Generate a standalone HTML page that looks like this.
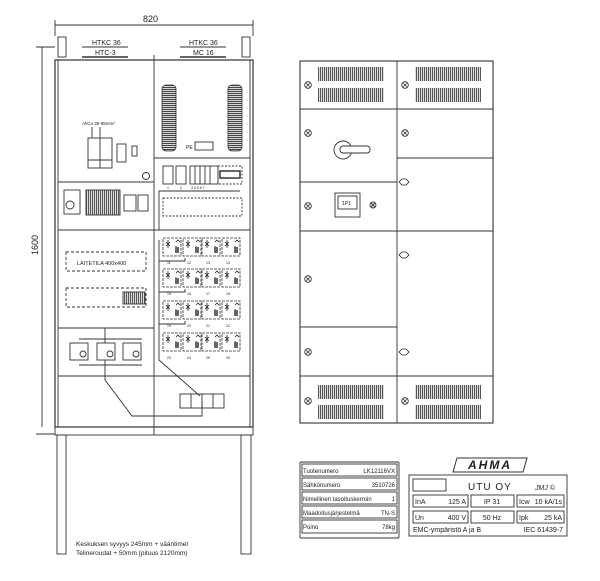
<!DOCTYPE html>
<html><head><meta charset="utf-8"><style>
html,body{margin:0;padding:0;background:#fff;}
svg{display:block;font-family:"Liberation Sans",sans-serif;}
</style></head><body>
<svg width="600" height="581" viewBox="0 0 600 581" xmlns="http://www.w3.org/2000/svg">
<defs>
<pattern id="vs" width="2" height="4" patternUnits="userSpaceOnUse"><rect width="1.2" height="4" fill="#555"/></pattern>
<pattern id="hs" width="4" height="2" patternUnits="userSpaceOnUse"><rect width="4" height="1.2" fill="#444"/></pattern>
<g id="mod">
<rect x="0" y="0" width="18" height="18" fill="#fff" stroke="#333" stroke-width="0.8" stroke-dasharray="3,1"/>
<path d="M3 4 L7 8 M7 4 L3 8 M5 2 V10 M13 4 l2 -2 l2 2 M13 8 v6" stroke="#222" stroke-width="0.8" fill="none"/>
<rect x="12" y="9" width="4" height="6" fill="#666"/>
</g>
<g id="scr"><circle r="3.3" fill="#fff" stroke="#222" stroke-width="0.8"/><path d="M-1.8 -1.8 L1.8 1.8 M1.8 -1.8 L-1.8 1.8" stroke="#222" stroke-width="0.7"/></g>
<g id="hinge"><path d="M-5 0 L-2 -3 H2 L5 0 L2 3 H-2 Z" fill="#fff" stroke="#222" stroke-width="0.8"/></g>
<g id="gl"><rect x="0" y="0" width="14" height="66" rx="4" fill="url(#hs)" stroke="#333" stroke-width="0.8"/></g>
</defs>
<g stroke="#333" stroke-width="0.9" fill="none">
<line x1="55" y1="25" x2="253" y2="25"/>
<line x1="55" y1="20" x2="55" y2="36"/><line x1="253" y1="20" x2="253" y2="36"/>
<line x1="42" y1="47" x2="42" y2="427"/>
<line x1="36" y1="47" x2="55" y2="47"/><line x1="36" y1="434" x2="55" y2="434"/>
<rect x="58" y="37" width="8" height="20"/><rect x="242" y="37" width="8" height="20"/>
<line x1="82" y1="47" x2="128" y2="47"/><line x1="180" y1="47" x2="226" y2="47"/>
<line x1="82" y1="57" x2="128" y2="57" stroke-width="1.5"/><line x1="180" y1="57" x2="226" y2="57" stroke-width="1.5"/>
<rect x="55" y="60" width="198" height="367" stroke-width="1.2"/>
<rect x="58" y="60" width="192" height="367"/>
<line x1="154" y1="55" x2="154" y2="435"/>
<line x1="58" y1="182" x2="154" y2="182"/><line x1="58" y1="230" x2="250" y2="230"/>
<line x1="58" y1="328" x2="154" y2="328"/><line x1="58" y1="376" x2="250" y2="376"/>
<line x1="154" y1="158" x2="250" y2="158"/>
<rect x="55" y="427" width="198" height="8"/>
<rect x="57" y="435" width="9" height="119"/><rect x="241" y="435" width="10" height="119"/>
<use href="#gl" x="162" y="85"/><use href="#gl" x="228" y="85"/>
<rect x="195" y="142" width="18" height="8"/>
<rect x="88" y="138" width="24" height="30"/>
<line x1="100" y1="138" x2="100" y2="168"/><line x1="88" y1="160" x2="112" y2="160"/>
<rect x="117" y="144" width="9" height="18"/><rect x="132" y="146" width="5" height="10"/>
<line x1="92" y1="127" x2="92" y2="138"/><line x1="100" y1="127" x2="100" y2="138"/>
<circle cx="146" cy="176" r="3.5"/>
<rect x="163" y="166" width="10" height="18"/><rect x="176" y="166" width="10" height="18"/>
<rect x="190" y="166" width="28" height="18"/>
<line x1="195" y1="166" x2="195" y2="184"/><line x1="200" y1="166" x2="200" y2="184"/><line x1="205" y1="166" x2="205" y2="184"/><line x1="210" y1="166" x2="210" y2="184"/>
<rect x="218" y="166" width="24" height="18" stroke-dasharray="2,1.5"/>
<rect x="220" y="171" width="20" height="7" stroke-width="1.5"/>
<path d="M159 230 V191 H240"/>
<rect x="163" y="198" width="79" height="18" stroke-dasharray="2,1.5"/>
<rect x="64" y="190" width="16" height="24"/><circle cx="70" cy="205" r="4"/>
<rect x="86" y="190" width="34" height="25" fill="url(#vs)"/>
<rect x="124" y="195" width="12" height="16"/><rect x="138" y="195" width="10" height="16"/>
<rect x="66" y="252" width="80" height="19" stroke-dasharray="3,2"/>
<rect x="66" y="288" width="80" height="19" stroke-dasharray="3,2"/>
<rect x="123" y="292" width="22" height="12" fill="url(#vs)"/>
<path d="M79 339 H142 M105 328 V376 M79 365 H142"/>
<rect x="70" y="343" width="18" height="17" fill="#fff"/><rect x="97" y="343" width="18" height="17" fill="#fff"/><rect x="123" y="343" width="18" height="17" fill="#fff"/>
<circle cx="83" cy="354" r="3"/><circle cx="110" cy="354" r="3"/><circle cx="136" cy="354" r="3"/>
<path d="M105 376 V380 L132 416 H202 V402"/>
<path d="M159 240 V360 L200 396"/>
<path d="M159 261 H185 V258 M159 292 H185 V289 M159 324 H185 V321"/>
<rect x="180" y="394" width="44" height="14"/>
<line x1="191" y1="394" x2="191" y2="408"/><line x1="202" y1="394" x2="202" y2="408"/><line x1="213" y1="394" x2="213" y2="408"/>
<rect x="300" y="61" width="193" height="362" stroke-width="1.1"/>
<line x1="397" y1="61" x2="397" y2="423"/>
<line x1="300" y1="109" x2="493" y2="109"/><line x1="300" y1="182" x2="397" y2="182"/>
<line x1="300" y1="231" x2="493" y2="231"/><line x1="300" y1="327" x2="397" y2="327"/>
<line x1="300" y1="376" x2="493" y2="376"/><line x1="397" y1="158" x2="493" y2="158"/>
<rect x="318" y="67" width="66" height="14" fill="url(#vs)" stroke="none"/><rect x="318" y="88" width="66" height="14" fill="url(#vs)" stroke="none"/>
<rect x="415" y="67" width="66" height="14" fill="url(#vs)" stroke="none"/><rect x="415" y="88" width="66" height="14" fill="url(#vs)" stroke="none"/>
<rect x="318" y="385" width="66" height="14" fill="url(#vs)" stroke="none"/><rect x="318" y="405" width="66" height="14" fill="url(#vs)" stroke="none"/>
<rect x="415" y="385" width="66" height="14" fill="url(#vs)" stroke="none"/><rect x="415" y="405" width="66" height="14" fill="url(#vs)" stroke="none"/>
<circle cx="343" cy="150" r="9"/><rect x="340" y="146" width="30" height="7" rx="3" fill="#fff"/>
<rect x="335" y="193" width="25" height="24"/><rect x="338" y="196" width="19" height="13"/>
<circle cx="373" cy="205" r="3"/><path d="M371 203 L375 207 M375 203 L371 207"/>
<rect x="300" y="462" width="99" height="76" rx="1"/>
<rect x="302" y="464" width="95" height="12"/><rect x="302" y="478" width="95" height="12"/>
<rect x="302" y="492" width="95" height="12"/><rect x="302" y="506" width="95" height="12"/><rect x="302" y="520" width="95" height="13"/>
<path d="M457 458 H527 L523 472 H453 Z" stroke-width="1"/>
<rect x="409" y="475" width="158" height="61"/>
<rect x="413" y="479" width="33" height="12"/>
<rect x="413" y="495" width="55" height="12"/><rect x="471" y="495" width="43" height="12"/><rect x="517" y="495" width="47" height="12"/>
<rect x="413" y="511" width="55" height="12"/><rect x="471" y="511" width="43" height="12"/><rect x="517" y="511" width="47" height="12"/>
</g>
<g>
<use href="#mod" x="163" y="238"/><use href="#mod" x="183" y="238"/><use href="#mod" x="202" y="238"/><use href="#mod" x="222" y="238"/>
<use href="#mod" x="163" y="269"/><use href="#mod" x="183" y="269"/><use href="#mod" x="202" y="269"/><use href="#mod" x="222" y="269"/>
<use href="#mod" x="163" y="301"/><use href="#mod" x="183" y="301"/><use href="#mod" x="202" y="301"/><use href="#mod" x="222" y="301"/>
<use href="#mod" x="163" y="333"/><use href="#mod" x="183" y="333"/><use href="#mod" x="202" y="333"/><use href="#mod" x="222" y="333"/>
<use href="#scr" x="308" y="85"/><use href="#scr" x="405" y="85"/><use href="#scr" x="308" y="133"/><use href="#scr" x="405" y="133"/>
<use href="#scr" x="308" y="206"/><use href="#scr" x="308" y="279"/><use href="#scr" x="308" y="352"/>
<use href="#scr" x="308" y="401"/><use href="#scr" x="405" y="401"/>
<use href="#hinge" x="404" y="182"/><use href="#hinge" x="404" y="255"/><use href="#hinge" x="404" y="352"/>
</g>
<g fill="#222" font-size="7">
<text x="143" y="22" font-size="9">820</text>
<text x="0" y="0" font-size="9" transform="translate(38 255) rotate(-90)">1600</text>
<text x="92" y="45">HTKC 36</text><text x="95" y="55">HTC-3</text>
<text x="189" y="45">HTKC 36</text><text x="193" y="55">MC 16</text>
<text x="82" y="125" font-size="4.5">Al/Cu 35-95mm²</text>
<text x="186" y="149" font-size="5">PE</text>
<g font-size="3.5"><text x="167" y="189">1</text><text x="180" y="189">2</text><text x="191" y="189">3 4 5 6 7</text>
<text x="167" y="264">11</text><text x="187" y="264">12</text><text x="206" y="264">13</text><text x="226" y="264">14</text>
<text x="167" y="295">15</text><text x="187" y="295">16</text><text x="206" y="295">17</text><text x="226" y="295">18</text>
<text x="167" y="327">19</text><text x="187" y="327">20</text><text x="206" y="327">21</text><text x="226" y="327">22</text>
<text x="167" y="359">23</text><text x="187" y="359">24</text><text x="206" y="359">25</text><text x="226" y="359">26</text></g>
<text x="77" y="265" font-size="5.5">LAITETILA    400x400</text>
<text x="342" y="205" font-size="5">1P1</text>
<g font-size="6">
<text x="303" y="473">Tuotenumero</text><text x="395" y="473" text-anchor="end">LK12116VX</text>
<text x="303" y="487">Sähkönumero</text><text x="395" y="487" text-anchor="end">3510726</text>
<text x="303" y="501">Nimellinen tasoituskerroin</text><text x="395" y="501" text-anchor="end">1</text>
<text x="303" y="515">Maadoitusjärjestelmä</text><text x="395" y="515" text-anchor="end">TN-S</text>
<text x="303" y="529">Poino</text><text x="395" y="529" text-anchor="end">78kg</text>
</g>
<text x="490" y="469" font-size="12" font-weight="bold" font-style="italic" text-anchor="middle" letter-spacing="2">AHMA</text>
<text x="468" y="490" font-size="10" letter-spacing="1">UTU OY</text>
<text x="535" y="490" font-size="7" font-style="italic">JMJ ©</text>
<g font-size="7">
<text x="415" y="504">InA</text><text x="466" y="504" text-anchor="end">125 A</text>
<text x="492" y="504" text-anchor="middle">IP 31</text>
<text x="519" y="504">Icw</text><text x="562" y="504" text-anchor="end">10 kA/1s</text>
<text x="415" y="520">Un</text><text x="466" y="520" text-anchor="end">400 V</text>
<text x="492" y="520" text-anchor="middle">50 Hz</text>
<text x="519" y="520">Ipk</text><text x="562" y="520" text-anchor="end">25 kA</text>
<text x="413" y="532">EMC-ympäristö A ja B</text><text x="563" y="532" text-anchor="end">IEC 61439-7</text>
</g>
<text x="76" y="546" font-size="6.5">Keskuksen syvyys 245mm + vääntimet</text>
<text x="76" y="555" font-size="6.5">Telineroudat + 50mm (pituus 2120mm)</text>
</g>
</svg>
</body></html>
